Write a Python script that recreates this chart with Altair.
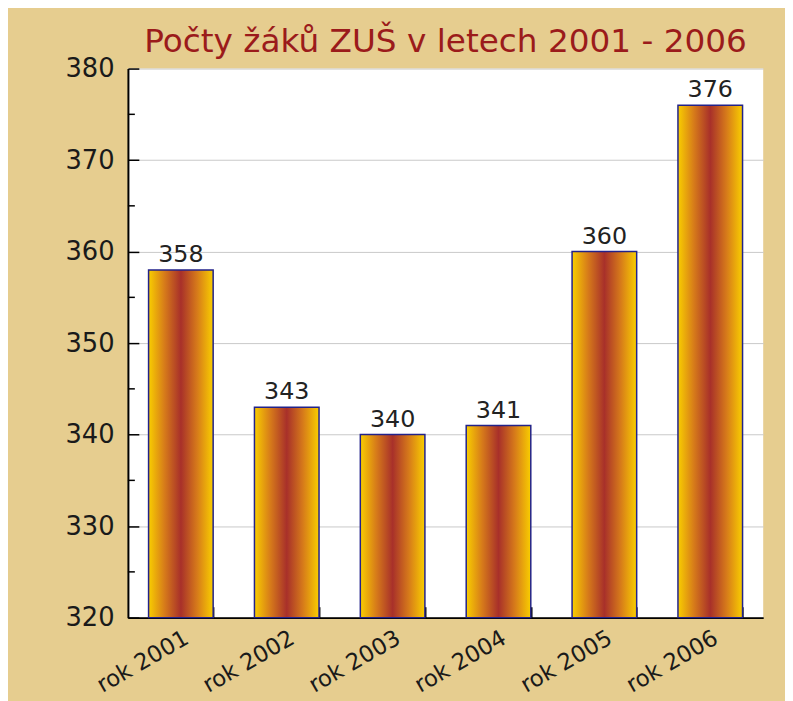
import altair as alt
import pandas as pd

years = ["rok 2001", "rok 2002", "rok 2003", "rok 2004", "rok 2005", "rok 2006"]
pupils = [358, 343, 340, 341, 360, 376]
minor_ticks = [325, 335, 345, 355, 365, 375]

df = pd.DataFrame({"rok": years, "zaci": pupils})
minor_df = pd.DataFrame({"v": minor_ticks})

FONT = "DejaVu Sans"

gradient = alt.Gradient(
    gradient="linear",
    x1=0, x2=1, y1=0, y2=0,
    stops=[
        alt.GradientStop(color="#F9CE00", offset=0),
        alt.GradientStop(color="#D67A1A", offset=0.25),
        alt.GradientStop(color="#A8302A", offset=0.5),
        alt.GradientStop(color="#D67A1A", offset=0.75),
        alt.GradientStop(color="#F9CE00", offset=1),
    ],
)

x_enc = alt.X(
    "rok:N",
    sort=years,
    title=None,
    scale=alt.Scale(paddingInner=0.39, paddingOuter=0.195),
    axis=alt.Axis(
        labelAngle=-30,
        labelAlign="right",
        labelBaseline="top",
        labelFont=FONT,
        labelFontSize=23,
        labelColor="#1a1a1a",
        labelPadding=20,
        tickBand="extent",
        tickSize=alt.ExprRef(expr="-11"),
        tickColor="#000000",
        tickWidth=1.5,
        domainColor="#000000",
        domainWidth=2,
    ),
)

y_scale = alt.Scale(domain=[320, 380], nice=False, zero=False)

bars = alt.Chart(df).mark_bar(
    color=gradient, stroke="#22228A", strokeWidth=1.5
).encode(
    x=x_enc,
    y=alt.Y(
        "zaci:Q",
        scale=y_scale,
        title=None,
        axis=alt.Axis(
            values=[320, 330, 340, 350, 360, 370, 380],
            labelFont=FONT,
            labelFontSize=26,
            labelColor="#1a1a1a",
            labelPadding=25,
            tickSize=alt.ExprRef(expr="-11"),
            tickColor="#000000",
            tickWidth=1.5,
            domainColor="#000000",
            domainWidth=2,
            grid=True,
            gridColor="#C8C8C8",
            gridWidth=1,
        ),
    ),
    y2=alt.datum(320),
)

labels = alt.Chart(df).mark_text(
    baseline="alphabetic", dy=-8, font=FONT, fontSize=24, color="#222222"
).encode(
    x=alt.X("rok:N", sort=years),
    y=alt.Y("zaci:Q", scale=y_scale),
    text=alt.Text("zaci:Q"),
)

minor = alt.Chart(minor_df).mark_rule(color="#000000", strokeWidth=1.5).encode(
    y=alt.Y("v:Q", scale=y_scale),
    x=alt.value(0),
    x2=alt.value(7),
)

chart = alt.layer(bars, minor, labels).properties(
    width=641,
    height=554,
    background="#E6CD8F",
    padding={"left": 57, "top": 15, "right": 22, "bottom": 0},
    title=alt.TitleParams(
        "Počty žáků ZUŠ v letech 2001 - 2006",
        font=FONT,
        fontSize=33,
        fontWeight="normal",
        color="#9B1B1B",
        anchor="middle",
        offset=-3,
    ),
).configure_view(fill="#FFFFFF", stroke=None)

chart.save("out.html", embed_options={"renderer": "svg", "actions": False})
